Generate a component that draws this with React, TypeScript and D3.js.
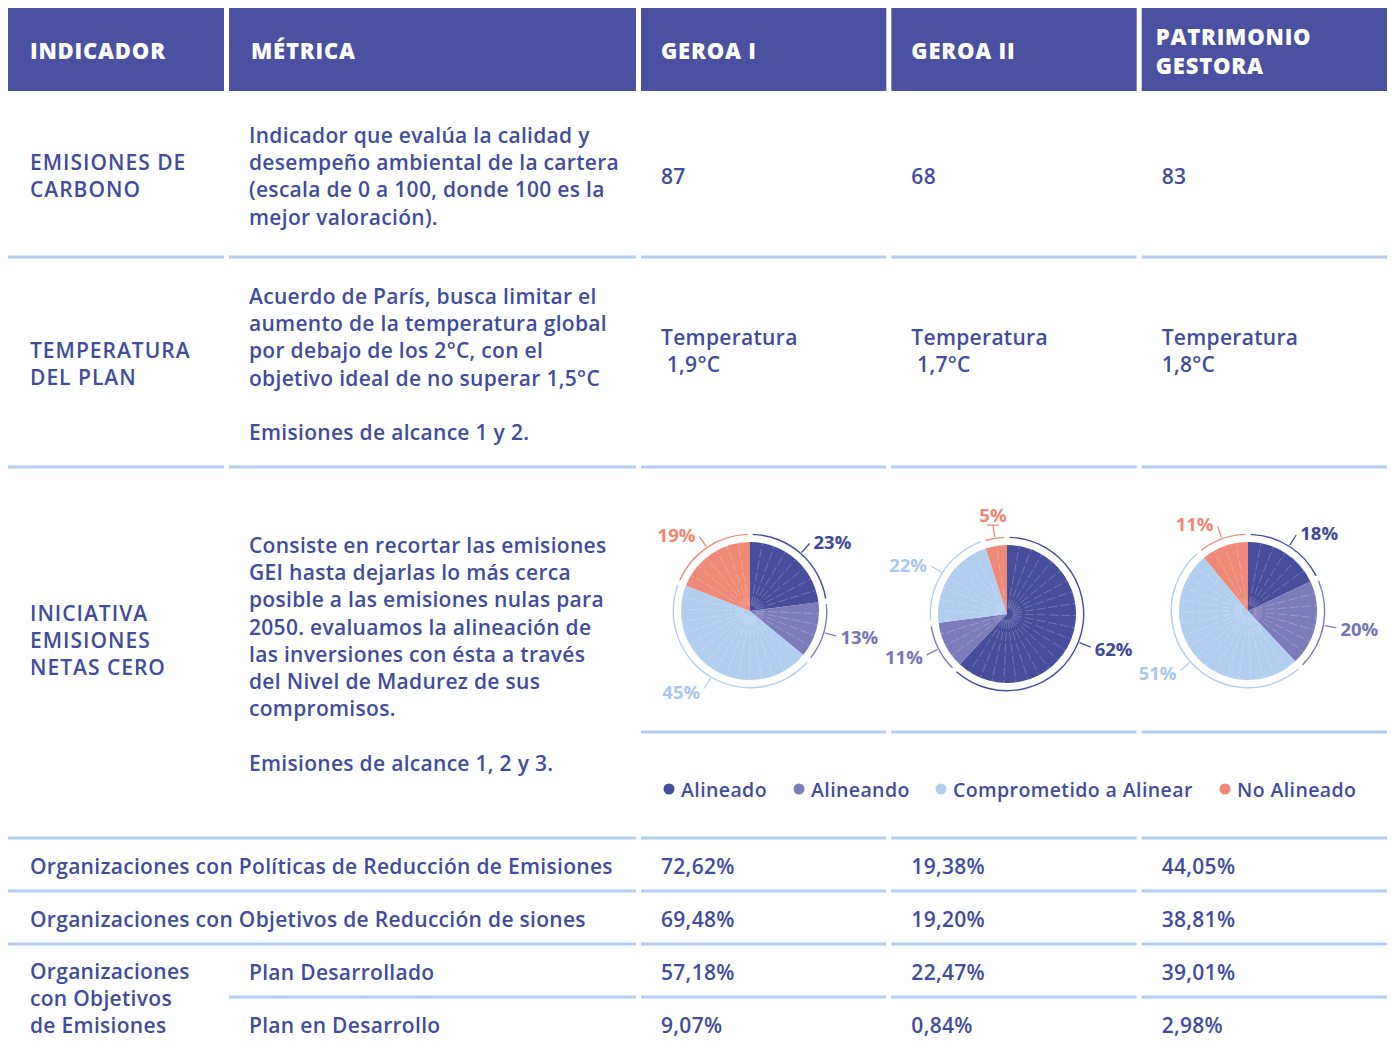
import * as d3 from 'd3';
import React from 'react';

// ---- data ----
const headers = ['INDICADOR', 'MÉTRICA'];
const funds = ['GEROA I', 'GEROA II', 'PATRIMONIO GESTORA'];
const carbonScores = [87, 68, 83];
const temperatures = [1.9, 1.7, 1.8];
const categories = ['Alineado', 'Alineando', 'Comprometido a Alinear', 'No Alineado'];
const geroa1Shares = [23, 13, 45, 19];
const geroa2Shares = [62, 11, 22, 5];
const patrimonioShares = [18, 20, 51, 11];
const policiesPct = [72.62, 19.38, 44.05];
const targetsPct = [69.48, 19.2, 38.81];
const planDevelopedPct = [57.18, 22.47, 39.01];
const planInDevelopmentPct = [9.07, 0.84, 2.98];

const carbonText = [
  'Indicador que evalúa la calidad y',
  'desempeño ambiental de la cartera',
  '(escala de 0 a 100, donde 100 es la',
  'mejor valoración).',
];
const tempText = [
  'Acuerdo de París, busca limitar el',
  'aumento de la temperatura global',
  'por debajo de los 2°C, con el',
  'objetivo ideal de no superar 1,5°C',
  '',
  'Emisiones de alcance 1 y 2.',
];
const netZeroText = [
  'Consiste en recortar las emisiones',
  'GEI hasta dejarlas lo más cerca',
  'posible a las emisiones nulas para',
  '2050. evaluamos la alineación de',
  'las inversiones con ésta a través',
  'del Nivel de Madurez de sus',
  'compromisos.',
  '',
  'Emisiones de alcance 1, 2 y 3.',
];

// ---- style ----
const HEAD_BG = '#4a51a0';
const TXT = '#414c9d';
const SEP = '#b3cdee';
const colors = ['#464e9c', '#7c7cba', '#b2cff0', '#ef8a78'];
const labelColors = ['#3f4897', '#7574b4', '#a9c7ec', '#ee8672'];
const FONT = '"Open Sans", Lato, sans-serif';
const SIZE = 21;

const W = 1391;
const H = 1041;
const col1 = [8, 224];
const col2 = [229, 636];
const LH = 27.2;

const fmtPct = (v: number) => d3.format('.2f')(v).replace('.', ',') + '%';
const fmtTemp = (v: number) => d3.format('.1f')(v).replace('.', ',') + '°C';

function Lines({ x, y, lines, size = SIZE, weight = 600, fill = TXT, spacing = 0.3 }: any) {
  return (
    <text x={x} y={y} fontSize={size} fontWeight={weight} fill={fill} fontFamily={FONT} letterSpacing={spacing}>
      {lines.map((l: string, i: number) => (
        <tspan key={i} x={x} y={y + i * LH} dominantBaseline="central">{l}</tspan>
      ))}
    </text>
  );
}

function Sep({ x0, x1, y }: { x0: number; x1: number; y: number }) {
  return <rect x={x0} y={y - 1.5} width={x1 - x0} height={3} fill={SEP} />;
}

function Pie({ cx, cy, shares }: { cx: number; cy: number; shares: number[] }) {
  const r = 69;
  const pie = d3.pie<number>().sort(null).value((d) => d);
  const arcs = pie(shares);
  const arc = d3.arc<d3.PieArcDatum<number>>().innerRadius(0).outerRadius(r);
  const ring = d3.arc<d3.PieArcDatum<number>>().innerRadius(76).outerRadius(77.4).padAngle(0.05);
  // radial division lines, roughly every 10 degrees within each category
  const divisions: number[] = [];
  arcs.forEach((a) => {
    const n = Math.max(1, Math.round(((a.endAngle - a.startAngle) * 180) / Math.PI / 10));
    const step = (a.endAngle - a.startAngle) / n;
    for (let i = 1; i < n; i++) divisions.push(a.startAngle + i * step);
  });
  return (
    <g transform={`translate(${cx},${cy})`}>
      {arcs.map((a, i) => (
        <path key={'s' + i} d={arc(a) || ''} fill={colors[i]} />
      ))}
      {divisions.map((ang, i) => (
        <line
          key={'d' + i}
          x1={6 * Math.sin(ang)}
          y1={-6 * Math.cos(ang)}
          x2={r * Math.sin(ang)}
          y2={-r * Math.cos(ang)}
          stroke="#fff"
          strokeOpacity={0.32}
          strokeWidth={0.7}
          strokeDasharray="9 3"
        />
      ))}
      {arcs.map((a, i) => (
        <path key={'r' + i} d={ring(a) || ''} fill={colors[i]} />
      ))}
      {arcs.map((a, i) => {
        const m = (a.startAngle + a.endAngle) / 2;
        const sx = Math.sin(m);
        const sy = -Math.cos(m);
        const ex = 90 * sx;
        const ey = 90 * sy;
        const side = sx > 0.25 ? 1 : sx < -0.25 ? -1 : 0;
        return (
          <g key={'l' + i}>
            <line x1={78 * sx} y1={78 * sy} x2={ex} y2={ey} stroke={colors[i]} strokeWidth={1.3} />
            {side === 0 && (
              <line x1={ex - 6} y1={ey} x2={ex + 6} y2={ey} stroke={colors[i]} strokeWidth={1.3} />
            )}
            <text
              x={ex + side * 4}
              y={side === 0 ? ey + sy * 11 : ey + sy * 3}
              textAnchor={side === 1 ? 'start' : side === -1 ? 'end' : 'middle'}
              dominantBaseline="central"
              fontSize={18.5}
              fontWeight={700}
              fill={labelColors[i]}
              fontFamily={FONT}
            >
              {shares[i]}%
            </text>
          </g>
        );
      })}
    </g>
  );
}

export default function App() {
  const x = d3.scaleBand<string>().domain(funds).range([641, 1387]).paddingInner(0.0201);
  const bw = x.bandwidth();
  const pieShares = [geroa1Shares, geroa2Shares, patrimonioShares];
  const pieCenters = [
    [750, 611],
    [1007, 614],
    [1248, 611],
  ];
  const legendX = [664, 794, 936, 1220];
  const headerCols = [col1, col2];

  const bottomRows = [
    { label: 'Organizaciones con Políticas de Reducción de Emisiones', vals: policiesPct, y: 866 },
    { label: 'Organizaciones con Objetivos de Reducción de siones', vals: targetsPct, y: 919 },
  ];

  const headText = (key: string, tx: number, ty: number, s: string) => (
    <text
      key={key}
      x={tx}
      y={ty}
      dominantBaseline="central"
      fontSize={22}
      fontWeight={800}
      fill="#fff"
      fontFamily={FONT}
      letterSpacing={0.8}
    >
      {s}
    </text>
  );

  return (
    <svg width={W} height={H} style={{ position: 'absolute', left: 0, top: 0, background: '#fff' }}>
      {/* header */}
      {headerCols.map((c, i) => (
        <g key={'h' + i}>
          <rect x={c[0]} y={8} width={c[1] - c[0]} height={83} fill={HEAD_BG} />
          {headText('t' + i, c[0] + 22, 50, headers[i])}
        </g>
      ))}
      {funds.map((f) => {
        const words = f === 'PATRIMONIO GESTORA' ? ['PATRIMONIO', 'GESTORA'] : [f];
        const x0 = x(f)!;
        return (
          <g key={f}>
            <rect x={x0} y={8} width={bw} height={83} fill={HEAD_BG} />
            {words.map((w, i) =>
              headText(w, x0 + (words.length > 1 ? 14 : 20), words.length > 1 ? 36 + i * 29 : 50, w)
            )}
          </g>
        );
      })}

      {/* row 1: carbon */}
      <Lines x={30} y={162} lines={['EMISIONES DE', 'CARBONO']} spacing={1} />
      <Lines x={249} y={135} lines={carbonText} />
      {funds.map((f, i) => (
        <Lines key={f} x={x(f)! + 20} y={176} lines={[String(carbonScores[i])]} />
      ))}

      {[col1, col2].map((c, i) => (
        <Sep key={'s1' + i} x0={c[0]} x1={c[1]} y={257} />
      ))}
      {funds.map((f) => (
        <Sep key={'s1' + f} x0={x(f)!} x1={x(f)! + bw} y={257} />
      ))}

      {/* row 2: temperature */}
      <Lines x={30} y={350} lines={['TEMPERATURA', 'DEL PLAN']} spacing={1} />
      <Lines x={249} y={296} lines={tempText} />
      {funds.map((f, i) => (
        <Lines key={f} x={x(f)! + 20} y={337} lines={['Temperatura', (i < 2 ? '\u00a0' : '') + fmtTemp(temperatures[i])]} />
      ))}

      {[col1, col2].map((c, i) => (
        <Sep key={'s2' + i} x0={c[0]} x1={c[1]} y={467} />
      ))}
      {funds.map((f) => (
        <Sep key={'s2' + f} x0={x(f)!} x1={x(f)! + bw} y={467} />
      ))}

      {/* row 3: net zero */}
      <Lines x={30} y={613} lines={['INICIATIVA', 'EMISIONES', 'NETAS CERO']} spacing={1} />
      <Lines x={249} y={545} lines={netZeroText} />
      {funds.map((f, i) => (
        <Pie key={f} cx={pieCenters[i][0]} cy={pieCenters[i][1]} shares={pieShares[i]} />
      ))}
      {funds.map((f) => (
        <Sep key={'s3' + f} x0={x(f)!} x1={x(f)! + bw} y={732} />
      ))}
      {categories.map((c, i) => (
        <g key={c}>
          <circle cx={legendX[i] + 5} cy={789} r={5.5} fill={colors[i]} />
          <text
            x={legendX[i] + 17}
            y={789}
            dominantBaseline="central"
            fontSize={19.5}
            fontWeight={600}
            fill={TXT}
            fontFamily={FONT}
            letterSpacing={0.4}
          >
            {c}
          </text>
        </g>
      ))}

      <Sep x0={col1[0]} x1={col2[1]} y={838} />
      {funds.map((f) => (
        <Sep key={'s4' + f} x0={x(f)!} x1={x(f)! + bw} y={838} />
      ))}

      {/* bottom rows */}
      {bottomRows.map((row, ri) => (
        <g key={'b' + ri}>
          <Lines x={30} y={row.y} lines={[row.label]} />
          {funds.map((f, i) => (
            <Lines key={f} x={x(f)! + 20} y={row.y} lines={[fmtPct(row.vals[i])]} />
          ))}
          <Sep x0={col1[0]} x1={col2[1]} y={row.y + 25} />
          {funds.map((f) => (
            <Sep key={'sb' + f} x0={x(f)!} x1={x(f)! + bw} y={row.y + 25} />
          ))}
        </g>
      ))}

      <Lines x={30} y={971} lines={['Organizaciones', 'con Objetivos', 'de Emisiones']} />
      <Lines x={249} y={972} lines={['Plan Desarrollado']} />
      <Lines x={249} y={1025} lines={['Plan en Desarrollo']} />
      {funds.map((f, i) => (
        <g key={'p' + f}>
          <Lines x={x(f)! + 20} y={972} lines={[fmtPct(planDevelopedPct[i])]} />
          <Lines x={x(f)! + 20} y={1025} lines={[fmtPct(planInDevelopmentPct[i])]} />
          <Sep x0={x(f)!} x1={x(f)! + bw} y={997} />
        </g>
      ))}
      <Sep x0={col2[0]} x1={col2[1]} y={997} />
    </svg>
  );
}
